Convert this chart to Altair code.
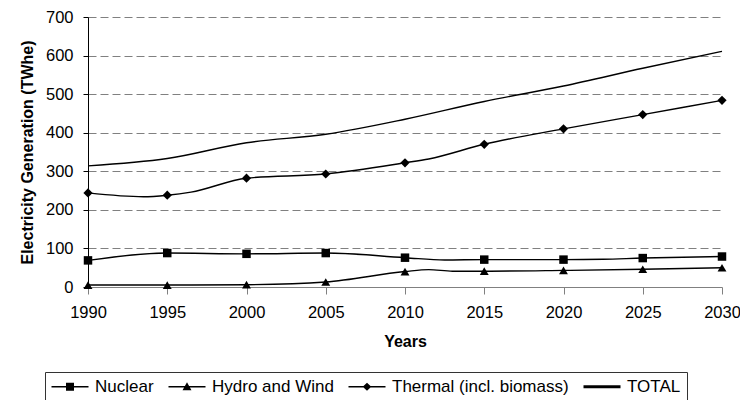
import altair as alt
import pandas as pd

series_order = ["Nuclear", "Hydro and Wind", "Thermal (incl. biomass)", "TOTAL"]

nuclear_years = [1990, 1995, 2000, 2005, 2010, 2012.5, 2015, 2020, 2022.5, 2025, 2030]
nuclear_values = [69, 88, 86, 88, 76, 70, 71, 71, 72, 75, 79]

hydro_years = [1990, 1995, 2000, 2005, 2010, 2011.5, 2013, 2015, 2020, 2025, 2030]
hydro_values = [5, 5, 6, 13, 40, 45, 41, 41, 43, 46, 50]

thermal_years = [1990, 1993.5, 1995, 1996.5, 2000, 2005, 2010, 2011.5, 2015, 2020, 2025, 2030]
thermal_values = [244, 234, 238, 246, 282, 293, 322, 332, 370, 410, 447, 484]

total_years = [1990, 1995, 2000, 2005, 2010, 2015, 2020, 2025, 2030]
total_values = [314, 333, 374, 396, 435, 481, 521, 567, 611]

x_ticks = [1990, 1995, 2000, 2005, 2010, 2015, 2020, 2025, 2030]
y_ticks = [0, 100, 200, 300, 400, 500, 600, 700]

rows = []
for name, yrs, vals in [
    (series_order[0], nuclear_years, nuclear_values),
    (series_order[1], hydro_years, hydro_values),
    (series_order[2], thermal_years, thermal_values),
    (series_order[3], total_years, total_values),
]:
    for yr, v in zip(yrs, vals):
        rows.append({"series": name, "year": yr, "value": v})
df = pd.DataFrame(rows)

FONT = "Liberation Sans"

x = alt.X(
    "year:Q",
    scale=alt.Scale(domain=[1990, 2030], nice=False, zero=False),
    axis=alt.Axis(
        values=x_ticks, format="d", title="Years", grid=False,
        domainColor="#808080", tickColor="#808080", tickSize=7,
        labelPadding=10, titlePadding=13, labelFlush=False,
        labelFontSize=16.5,
    ),
)
y = alt.Y(
    "value:Q",
    scale=alt.Scale(domain=[0, 700], nice=False),
    axis=alt.Axis(
        values=y_ticks, title="Electricity Generation (TWhe)", grid=True,
        gridDash=[8, 4], gridColor="#808080", gridWidth=1,
        domainColor="black", tickColor="black", tickSize=5,
        labelPadding=10, titlePadding=10, labelFontSize=16.5,
    ),
)

lines = alt.Chart(df).mark_line(interpolate="monotone", color="black").encode(
    x=x, y=y, detail="series:N",
    strokeWidth=alt.StrokeWidth(
        "series:N",
        scale=alt.Scale(domain=series_order, range=[1.4, 1.4, 1.4, 4.5]),
        legend=None,
    ),
)

markers = alt.Chart(df).transform_filter(
    "datum.series != 'TOTAL' && datum.year % 5 == 0"
).mark_point(filled=True, color="black", opacity=1).encode(
    x=x, y=y,
    shape=alt.Shape(
        "series:N",
        scale=alt.Scale(domain=series_order[:3], range=["square", "triangle-up", "diamond"]),
        legend=None,
    ),
    size=alt.Size(
        "series:N",
        scale=alt.Scale(domain=series_order[:3], range=[72, 85, 95]),
        legend=None,
    ),
)

BAR = "M-1,-0.08H3.625V0.08H-1Z"
legend_paths = [
    BAR + "M0.8125,-0.5H1.8125V0.5H0.8125Z",
    BAR + "M1.3125,-0.55L1.87,0.45L0.755,0.45Z",
    BAR + "M1.3125,-0.5L1.85,0L1.3125,0.5L0.775,0Z",
    "M-1,-0.2H3.625V0.2H-1Z",
]

legend_layer = alt.Chart(df).transform_filter("datum.year < 0").mark_point(
    filled=True, fill="black", stroke="black", strokeWidth=1, opacity=1
).encode(
    x=x, y=y,
    shape=alt.Shape(
        "series:N",
        scale=alt.Scale(domain=series_order, range=legend_paths),
        legend=alt.Legend(
            title=None, orient="none", legendX=-43, legendY=355,
            direction="horizontal", columns=4, symbolSize=256,
            labelOffset=27, columnPadding=12, padding=6,
            strokeColor="#333333", labelFont=FONT, labelFontSize=17,
            labelColor="black", symbolFillColor="black",
            symbolStrokeColor="black", symbolStrokeWidth=1,
            symbolOpacity=1, labelLimit=0,
        ),
    ),
)

chart = alt.layer(lines, markers, legend_layer).resolve_scale(
    shape="independent", size="independent"
).properties(
    width=634, height=270,
    autosize=alt.AutoSizeParams(type="none"),
    padding={"left": 80, "top": 9, "right": 18, "bottom": 113},
).configure_view(stroke=None).configure_axis(
    labelFont=FONT, labelFontSize=17, labelColor="black",
    titleFont=FONT, titleFontSize=16, titleFontWeight="bold", titleColor="black",
    domainWidth=1, tickWidth=1,
)

chart.save("out.html", embed_options={"renderer": "svg", "actions": False})
